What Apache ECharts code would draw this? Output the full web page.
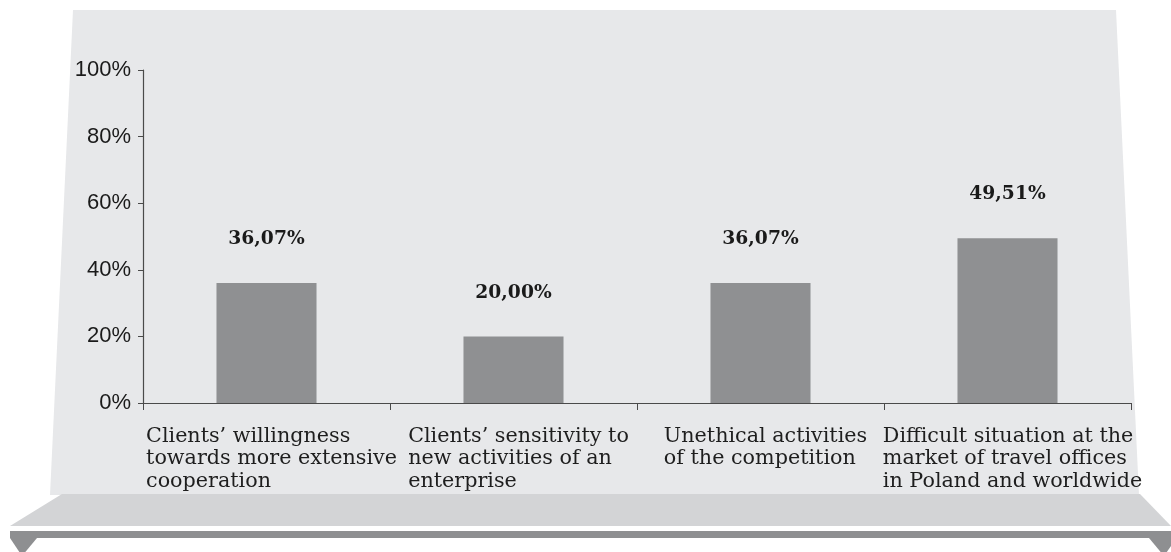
<!DOCTYPE html>
<html>
<head>
<meta charset="utf-8">
<script src="https://cdn.jsdelivr.net/npm/echarts@6/dist/echarts.min.js"></script>
<style>
  html, body { margin: 0; padding: 0; background: #fff; }
  #barChart { width: 1171px; height: 552px; }
</style>
</head>
<body>
<div id="barChart"></div>
<script>
// data
var categories = [
  "Clients\u2019 willingness\ntowards more extensive\ncooperation",
  "Clients\u2019 sensitivity to\nnew activities of an\nenterprise",
  "Unethical activities\nof the competition",
  "Difficult situation at the\nmarket of travel offices\nin Poland and worldwide"
];
var shares = [36.07, 20.00, 36.07, 49.51];
var yTicks = [0, 20, 40, 60, 80, 100];

var barChart = echarts.init(document.getElementById("barChart"));

var barOption = {
  animation: false,
  backgroundColor: "#ffffff",
  // 배경 (벽 + 바닥)
  graphic: [
    {
      type: "polygon",
      z: -10,
      shape: { points: [[73, 10], [1116, 10], [1139, 495], [50, 495]] },
      style: { fill: "#e7e8ea" }
    },
    {
      type: "polygon",
      z: -10,
      shape: { points: [[62, 494], [1140, 494], [1171, 526], [10, 526]] },
      style: { fill: "#d3d4d6" }
    },
    {
      type: "rect",
      z: -10,
      shape: { x: 10, y: 531, width: 1161, height: 7 },
      style: { fill: "#8e8f91" }
    },
    {
      type: "polygon",
      z: -10,
      shape: { points: [[10, 538], [37, 538], [22, 556]] },
      style: { fill: "#8e8f91" }
    },
    {
      type: "polygon",
      z: -10,
      shape: { points: [[1149, 538], [1171, 538], [1171, 546], [1164, 556]] },
      style: { fill: "#8e8f91" }
    }
  ],
  grid: {
    left: 143,
    right: 40,
    top: 70,
    bottom: 149,
    containLabel: false
  },
  xAxis: {
    type: "category",
    data: categories,
    boundaryGap: true,
    axisLine: { show: true, lineStyle: { color: "#4a4a4a", width: 1.2 } },
    axisTick: { show: true, alignWithLabel: false, length: 7, lineStyle: { color: "#4a4a4a" } },
    axisLabel: {
      interval: 0,
      margin: 22,
      align: "center",
      padding: [0, 0, 0, 10],
      formatter: function (value) {
        return value.split("\n").map(function (l) { return "{a|" + l + "}"; }).join("\n");
      },
      rich: {
        a: {
          align: "left",
          fontFamily: "DejaVu Serif",
          fontSize: 20.7,
          lineHeight: 22.5,
          color: "#1e1e1e"
        }
      }
    },
    splitLine: { show: false }
  },
  yAxis: {
    type: "value",
    min: yTicks[0],
    max: yTicks[yTicks.length - 1],
    interval: yTicks[1] - yTicks[0],
    axisLine: { show: true, lineStyle: { color: "#4a4a4a", width: 1.2 } },
    axisTick: { show: true, length: 5, lineStyle: { color: "#4a4a4a" } },
    axisLabel: {
      margin: 12,
      fontFamily: "Liberation Sans",
      fontSize: 22,
      color: "#1a1a1a",
      formatter: "{value}%"
    },
    splitLine: { show: false }
  },
  series: [
    {
      type: "bar",
      data: shares,
      barWidth: "40.5%",
      itemStyle: { color: "#8f9092" },
      label: {
        show: true,
        position: "top",
        distance: 34,
        fontFamily: "DejaVu Serif",
        fontWeight: "bold",
        fontSize: 18.7,
        color: "#1a1a1a",
        formatter: function (p) {
          return p.value.toFixed(2).replace(".", ",") + "%";
        }
      }
    }
  ]
};
barChart.setOption(barOption);
</script>
</body>
</html>
